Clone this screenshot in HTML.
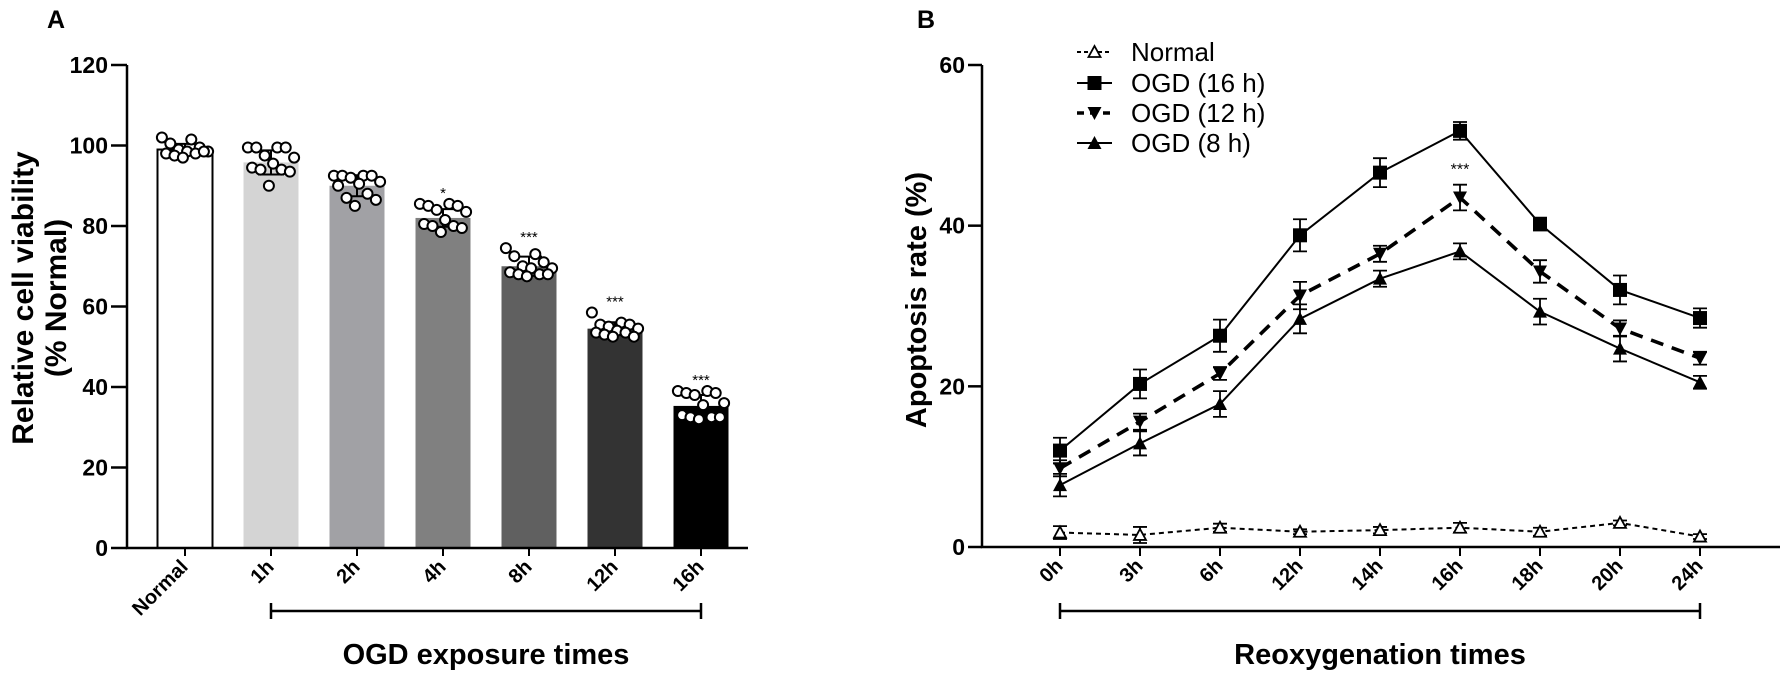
<!DOCTYPE html>
<html><head><meta charset="utf-8"><style>
html,body{margin:0;padding:0;background:#fff;}
svg{display:block;font-family:"Liberation Sans Narrow","Liberation Sans",sans-serif;}
.b{font-weight:bold;}
</style></head><body>
<svg id="fig" width="1783" height="678" viewBox="0 0 1783 678"></svg>
<script>
// ---------- Panel A data ----------
const catsA = ["Normal","1h","2h","4h","8h","12h","16h"];
const meansA = [99, 95.8, 90, 82, 70, 54.5, 35.3];
const sdA = [1.4, 3.0, 2.6, 2.2, 2.4, 1.6, 2.7];
const sigA = ["", "", "", "*", "***", "***", "***"];
const dotsA = [
 [102,101.5,100.5,99.5,99,98.5,98.5,98,98,97.5,98.5,97],
 [99.5,99.5,99.5,99.5,97.5,97,95.5,94.5,94,94,93.5,90],
 [92.5,92.5,92.5,92.5,92,91,90.5,90,88,87,86.5,85],
 [85.5,85.5,85,85,84,83.5,81.5,80.5,80,80,79.5,78.5],
 [74.5,73,72.5,71,70,69.5,69.5,68.5,68,68,68,67.5],
 [58.5,56,55.5,55.5,55,54.5,54,53.5,53.5,53,52.5,52.5],
 [39,39,38.5,38.5,38,36,35.5,33,32.5,32.5,32.5,32]
];
const ticksA = [0,20,40,60,80,100,120];
const fillsA = ["#ffffff","#d4d4d4","#a1a1a5","#808080","#606060","#333333","#000000"];
// ---------- Panel B data ----------
const catsB = ["0h","3h","6h","12h","14h","16h","18h","20h","24h"];
const normalB = [1.8,1.5,2.4,1.9,2.1,2.4,1.9,3.0,1.3];
const normalErr = [0.8,1.0,0.5,0.3,0.4,0.6,0.5,0.3,0.3];
const ogd16B = [12.0,20.3,26.3,38.8,46.6,51.8,40.2,32.0,28.5];
const ogd16Err = [1.6,1.8,2.0,2.0,1.8,1.1,0.8,1.8,1.2];
const ogd12B = [9.8,15.6,21.6,31.3,36.5,43.5,34.3,27.2,23.5];
const ogd12Err = [1.0,1.0,0.8,1.7,1.0,1.6,1.4,1.0,0.8];
const ogd8B = [7.7,12.9,17.8,28.4,33.4,36.8,29.3,24.7,20.5];
const ogd8Err = [1.4,1.5,1.6,1.8,1.0,1.0,1.6,1.6,0.8];
const ticksB = [0,20,40,60];

const NS="http://www.w3.org/2000/svg";
const svg=document.getElementById('fig');
function mk(tag,attrs,parent,txt){const e=document.createElementNS(NS,tag);for(const k in attrs)e.setAttribute(k,attrs[k]);if(txt!==undefined)e.textContent=txt;(parent||svg).appendChild(e);return e;}

// ===== Panel A =====
const axA={x0:127,y0:548,yTop:65,max:120,c0:185,step:86,bw:55};
const yA=v=>axA.y0-(v/axA.max)*(axA.y0-axA.yTop);
const xA=i=>axA.c0+i*axA.step;
const gA=mk('g',{});


let t=mk('text',{x:47,y:28,'font-size':25,class:'b'},gA,'A');

catsA.forEach((c,i)=>{
  const cx=xA(i),top=yA(meansA[i]);
  const r=mk('rect',{x:cx-axA.bw/2,y:top,width:axA.bw,height:axA.y0-top,fill:fillsA[i],stroke:i===0?'#000':'none','stroke-width':2},gA);
  
  
  const e=mk('path',{d:`M${cx},${yA(meansA[i]-sdA[i])}V${yA(meansA[i]+sdA[i])}M${cx-13},${yA(meansA[i]+sdA[i])}h26M${cx-13},${yA(meansA[i]-sdA[i])}h26`,stroke:'#000','stroke-width':2,fill:'none'},gA);
  
  
  dotsA[i].forEach((v,j)=>{
    const off=((j*7)%12-5.5)*4.2;
    const d=mk('circle',{cx:cx+off,cy:yA(v),r:5,fill:'#fff',stroke:'#000','stroke-width':2},gA);
    
    
  });
  if(sigA[i]){
    const maxv=Math.max(...dotsA[i]);
    const s=mk('text',{x:cx,y:yA(maxv)-6,'font-size':15,'text-anchor':'middle'},gA,sigA[i]);
    
    
  }
  mk('line',{x1:cx,y1:axA.y0,x2:cx,y2:axA.y0+8,stroke:'#000','stroke-width':2},gA);
  const lb=mk('text',{x:cx+4,y:axA.y0+20,'font-size':20,class:'b','text-anchor':'end',transform:`rotate(-45 ${cx+4} ${axA.y0+20})`},gA,c);
  
  
});
let ax=mk('path',{d:`M${axA.x0},${axA.yTop}V${axA.y0}H748`,stroke:'#000','stroke-width':2.5,fill:'none'},gA);

ticksA.forEach(v=>{
  mk('line',{x1:axA.x0-16,y1:yA(v),x2:axA.x0,y2:yA(v),stroke:'#000','stroke-width':2.5},gA);
  const tl=mk('text',{x:axA.x0-19,y:yA(v)+8,'font-size':23,class:'b','text-anchor':'end'},gA,String(v));
  
  
});
let yt=mk('text',{x:0,y:0,'font-size':30,class:'b','text-anchor':'middle',transform:'translate(33,298) rotate(-90)','font-family':'Liberation Sans, sans-serif'},gA,'Relative cell viability');

yt=mk('text',{x:0,y:0,'font-size':30,class:'b','text-anchor':'middle',transform:'translate(66,298) rotate(-90)','font-family':'Liberation Sans, sans-serif'},gA,'(% Normal)');

let br=mk('path',{d:`M${xA(1)},603V619M${xA(1)},611H${xA(6)}M${xA(6)},603V619`,stroke:'#000','stroke-width':2.5,fill:'none'},gA);

let xt=mk('text',{x:xA(1)+(xA(6)-xA(1))/2,y:664,'font-size':29,class:'b','text-anchor':'middle','font-family':'Liberation Sans, sans-serif','xml:space':'preserve'},gA,'OGD  exposure times');


// ===== Panel B =====
const axB={x0:982,y0:547,yTop:65,max:60,c0:1060,step:80};
const yB=v=>axB.y0-(v/axB.max)*(axB.y0-axB.yTop);
const xB=i=>axB.c0+i*axB.step;
const gB=mk('g',{});


t=mk('text',{x:917,y:28,'font-size':25,class:'b'},gB,'B');

ax=mk('path',{d:`M${axB.x0},${axB.yTop}V${axB.y0}H1780`,stroke:'#000','stroke-width':2.5,fill:'none'},gB);

ticksB.forEach(v=>{
  mk('line',{x1:axB.x0-14,y1:yB(v),x2:axB.x0,y2:yB(v),stroke:'#000','stroke-width':2.5},gB);
  const tl=mk('text',{x:axB.x0-17,y:yB(v)+8,'font-size':23,class:'b','text-anchor':'end'},gB,String(v));
  
  
});
catsB.forEach((c,i)=>{
  const cx=xB(i);
  mk('line',{x1:cx,y1:axB.y0,x2:cx,y2:axB.y0+9,stroke:'#000','stroke-width':2},gB);
  const lb=mk('text',{x:cx+4,y:axB.y0+20,'font-size':20,class:'b','text-anchor':'end',transform:`rotate(-45 ${cx+4} ${axB.y0+20})`},gB,c);
  
  
});
yt=mk('text',{x:0,y:0,'font-size':29,class:'b','text-anchor':'middle',transform:'translate(926,300) rotate(-90)','font-family':'Liberation Sans, sans-serif'},gB,'Apoptosis rate (%)');

br=mk('path',{d:`M${xB(0)},603V619M${xB(0)},611H${xB(8)}M${xB(8)},603V619`,stroke:'#000','stroke-width':2.5,fill:'none'},gB);

xt=mk('text',{x:(xB(0)+xB(8))/2,y:664,'font-size':29,class:'b','text-anchor':'middle','font-family':'Liberation Sans, sans-serif'},gB,'Reoxygenation times');


function marker(kind,x,y,parent){
  const s=7;
  if(kind==='square') return mk('rect',{x:x-s,y:y-s,width:2*s,height:2*s,fill:'#000'},parent);
  if(kind==='down') return mk('path',{d:`M${x-s},${y-s+1}H${x+s}L${x},${y+s}Z`,fill:'#000'},parent);
  if(kind==='up') return mk('path',{d:`M${x-s},${y+s-1}H${x+s}L${x},${y-s}Z`,fill:'#000'},parent);
  return mk('path',{d:`M${x-6},${y+5}H${x+6}L${x},${y-6}Z`,fill:'#fff',stroke:'#000','stroke-width':1.8},parent);
}
const seriesB=[
  {name:'normal',vals:normalB,err:normalErr,kind:'open',w:2,dash:'5 4'},
  {name:'ogd-16h',vals:ogd16B,err:ogd16Err,kind:'square',w:2,dash:''},
  {name:'ogd-12h',vals:ogd12B,err:ogd12Err,kind:'down',w:3.6,dash:'13 9'},
  {name:'ogd-8h',vals:ogd8B,err:ogd8Err,kind:'up',w:2,dash:''}
];
seriesB.forEach(s=>{
  const g=mk('g',{},gB);
  
  
  const d=s.vals.map((v,i)=>(i?'L':'M')+xB(i)+','+yB(v)).join('');
  const ln=mk('path',{d:d,stroke:'#000','stroke-width':s.w,fill:'none','stroke-dasharray':s.dash},g);
  
  
  s.vals.forEach((v,i)=>{
    const x=xB(i),hi=yB(v+s.err[i]),lo=yB(v-s.err[i]);
    const e=mk('path',{d:`M${x},${lo}V${hi}M${x-7},${hi}h14M${x-7},${lo}h14`,stroke:'#000','stroke-width':1.8,fill:'none'},g);
    
    
    const m=marker(s.kind,x,yB(v),g);
    
    
  });
});
const sig=mk('text',{x:xB(5),y:yB(ogd12B[5]+ogd12Err[5])-10,'font-size':16,'text-anchor':'middle'},gB,'***');



const legNames=['Normal','OGD (16 h)','OGD (12 h)','OGD (8 h)'];
const legY=[52,83,113,143];
const lg=mk('g',{},gB);


seriesB.forEach((s,i)=>{
  const y=legY[i];
  const ent=mk('g',{},lg);
  
  
  mk('line',{x1:1077,y1:y,x2:1112,y2:y,stroke:'#000','stroke-width':s.w,'stroke-dasharray':s.kind==='open'?'4 3':(s.dash?'7 6':'')},ent);
  marker(s.kind,1094.5,y,ent);
  mk('text',{x:1131,y:y+9,'font-size':26},ent,legNames[i]);
});
</script>
</body></html>
